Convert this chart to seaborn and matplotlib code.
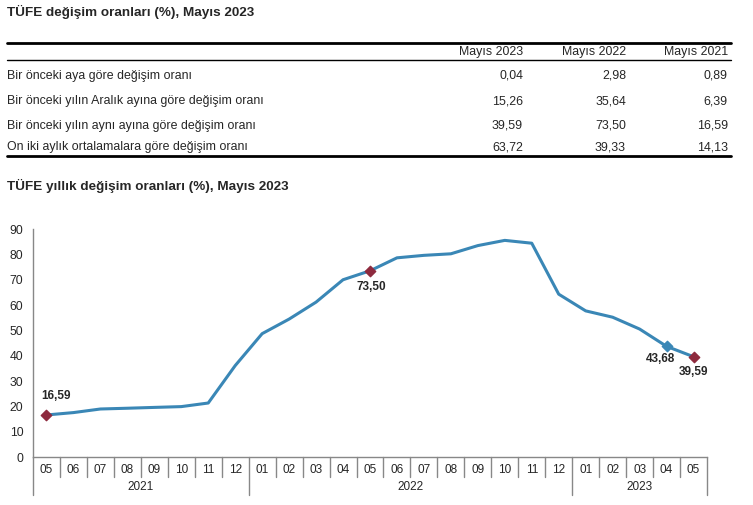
import numpy as np
import pandas as pd
import seaborn as sns
import matplotlib.pyplot as plt
from matplotlib.lines import Line2D

# table data
row_labels = ["Bir önceki aya göre değişim oranı",
              "Bir önceki yılın Aralık ayına göre değişim oranı",
              "Bir önceki yılın aynı ayına göre değişim oranı",
              "On iki aylık ortalamalara göre değişim oranı"]
col_labels = ["Mayıs 2023", "Mayıs 2022", "Mayıs 2021"]
may_2023 = ["0,04", "15,26", "39,59", "63,72"]
may_2022 = ["2,98", "35,64", "73,50", "39,33"]
may_2021 = ["0,89", "6,39", "16,59", "14,13"]

# chart data
months = ["05", "06", "07", "08", "09", "10", "11", "12",
          "01", "02", "03", "04", "05", "06", "07", "08", "09", "10", "11", "12",
          "01", "02", "03", "04", "05"]
years = ["2021", "2022", "2023"]
year_counts = [8, 12, 5]
annual = [16.59, 17.53, 18.95, 19.25, 19.58, 19.89, 21.31, 36.08,
          48.69, 54.44, 61.14, 69.97, 73.50, 78.62, 79.60, 80.21, 83.45, 85.51, 84.39, 64.27,
          57.68, 55.18, 50.51, 43.68, 39.59]
red_points = [0, 12, 24]
blue_points = [23]

sns.set_style("white")
plt.rcParams['font.family'] = ['Liberation Sans', 'DejaVu Sans']

W, H = 753, 505
fig = plt.figure(figsize=(W / 100, H / 100), dpi=100)

def fx(x):
    return x / W

def fy(y):
    return 1 - y / H

fs = 8.9

# table
fig.text(fx(7), fy(12), "TÜFE değişim oranları (%), Mayıs 2023", fontsize=9.7,
         fontweight="bold", va="center", ha="left")
fig.add_artist(Line2D([fx(7), fx(731)], [fy(43), fy(43)], color="black", lw=2))
fig.add_artist(Line2D([fx(7), fx(731)], [fy(60), fy(60)], color="black", lw=1))
fig.add_artist(Line2D([fx(7), fx(731)], [fy(156), fy(156)], color="black", lw=2))
col_x = [523, 626, 728]
for cx, lab in zip(col_x, col_labels):
    fig.text(fx(cx), fy(52), lab, fontsize=fs, ha="right", va="center")
row_y = [76, 101, 126, 147]
for i, ry in enumerate(row_y):
    fig.text(fx(7), fy(ry), row_labels[i], fontsize=fs, ha="left", va="center")
    for cx, col in zip(col_x, [may_2023, may_2022, may_2021]):
        fig.text(fx(cx), fy(ry), col[i], fontsize=fs, ha="right", va="center")

# chart
fig.text(fx(7), fy(186), "TÜFE yıllık değişim oranları (%), Mayıs 2023", fontsize=9.7,
         fontweight="bold", va="center", ha="left")

x0, x1, ytop, ybot = 33, 707, 229, 457
ax = fig.add_axes([fx(x0), fy(ybot), (x1 - x0) / W, (ybot - ytop) / H])
df = pd.DataFrame({"idx": np.arange(len(annual)), "val": annual})
line_color = "#3A87B6"
sns.lineplot(data=df, x="idx", y="val", ax=ax, color=line_color, lw=2.2)
ax.scatter(df["idx"].iloc[red_points], df["val"].iloc[red_points], marker="D",
           s=28, color="#8E2A3E", zorder=3)
ax.scatter(df["idx"].iloc[blue_points], df["val"].iloc[blue_points], marker="D",
           s=28, color=line_color, zorder=3)

ax.set_xlim(-0.5, len(annual) - 0.5)
ax.set_ylim(0, 90)
ax.set_yticks(range(0, 91, 10))
ax.tick_params(axis="y", labelsize=8.7, length=4, color="#888888", pad=3)
ax.set_xticks(range(len(months)))
ax.set_xticklabels(months, fontsize=8.5)
ax.tick_params(axis="x", length=0, pad=5)
ax.set_xlabel("")
ax.set_ylabel("")
for s in ["top", "right"]:
    ax.spines[s].set_visible(False)
for s in ["left", "bottom"]:
    ax.spines[s].set_color("#888888")
    ax.spines[s].set_linewidth(1)

# category separators
trans = ax.get_xaxis_transform()
short = -20 / (ybot - ytop)
long = -38 / (ybot - ytop)
bounds = np.cumsum([0] + year_counts) - 0.5
for k in range(len(months) + 1):
    xb = k - 0.5
    depth = long if xb in bounds else short
    ax.add_line(Line2D([xb, xb], [0, depth], transform=trans, color="#888888",
                       lw=1, clip_on=False))
for i, yr in enumerate(years):
    mid = (bounds[i] + bounds[i + 1]) / 2
    ax.text(mid, -30 / (ybot - ytop), yr, transform=trans, fontsize=8.5,
            ha="center", va="center")

# value labels
ax.annotate("16,59", (0, annual[0]), xytext=(-3.6, 13.7), textcoords="offset points",
            fontsize=8.5, fontweight="bold", ha="left", va="center")
ax.annotate("73,50", (12, annual[12]), xytext=(1, -11.5), textcoords="offset points",
            fontsize=8.5, fontweight="bold", ha="center", va="center")
ax.annotate("43,68", (23, annual[23]), xytext=(-4.3, -9.4), textcoords="offset points",
            fontsize=8.5, fontweight="bold", ha="center", va="center")
ax.annotate("39,59", (24, annual[24]), xytext=(0, -10.8), textcoords="offset points",
            fontsize=8.5, fontweight="bold", ha="center", va="center")

fig.savefig("out.png", dpi=100)
